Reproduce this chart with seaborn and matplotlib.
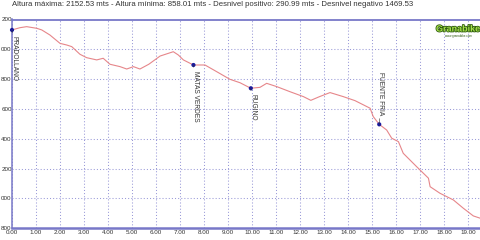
import matplotlib
matplotlib.use("Agg")
import matplotlib.pyplot as plt
import matplotlib.patheffects as pe
import seaborn as sns
import pandas as pd

# ---- data ----
dist_km = [0, 0.33, 0.61, 1.03, 1.24, 1.58, 2.0, 2.28, 2.49, 2.83, 3.11, 3.53, 3.8,
           4.08, 4.5, 4.78, 5.06, 5.33, 5.7, 6.17, 6.72, 6.93, 7.14, 7.56, 8.04, 8.53,
           9.08, 9.5, 9.95, 10.33, 10.61, 11.03, 11.58, 12.14, 12.45, 12.8, 13.25,
           13.8, 14.29, 14.92, 15.05, 15.3, 15.61, 15.82, 16.1, 16.3, 16.86, 17.35,
           17.42, 17.83, 18.39, 18.8, 19.22, 19.5, 19.6]
elev_m = [2130, 2145, 2152, 2141, 2130, 2096, 2040, 2029, 2018, 1967, 1944, 1929, 1940,
          1900, 1884, 1868, 1884, 1868, 1900, 1955, 1984, 1962, 1929, 1895, 1895, 1850,
          1799, 1776, 1739, 1745, 1772, 1750, 1716, 1683, 1658, 1682, 1710,
          1683, 1656, 1605, 1549, 1497, 1459, 1404, 1381, 1303, 1213, 1136,
          1079, 1035, 990, 935, 883, 868, 858]

wp_names = ["PRADOLLANO", "MATAS VERDES", "RUGINO", "FUENTE FRIA"]
wp_km = [0, 7.56, 9.95, 15.3]
wp_elev = [2130, 1895, 1739, 1497]

x_ticks = [0, 1, 2, 3, 4, 5, 6, 7, 8, 9, 10, 11, 12, 13, 14, 15, 16, 17, 18, 19]
x_tick_labels = ["0.00", "1.00", "2.00", "3.00", "4.00", "5.00", "6.00", "7.00", "8.00",
                 "9.00", "10.00", "11.00", "12.00", "13.00", "14.00", "15.00", "16.00",
                 "17.00", "18.00", "19.00"]
y_ticks = [800, 1000, 1200, 1400, 1600, 1800, 2000, 2200]
y_tick_labels = ["800", "000", "200", "400", "600", "800", "000", "200"]

title = ("Altura máxima: 2152.53 mts - Altura mínima: 858.01 mts - "
         "Desnivel positivo: 290.99 mts - Desnivel negativo 1469.53")

# ---- style ----
sns.set_style("white")
plt.rcParams['font.family'] = ['Liberation Sans', 'DejaVu Sans']

W, H = 481, 240
fig = plt.figure(figsize=(W / 100, H / 100), dpi=100)
ax = fig.add_axes([12 / W, 11.7 / H, 469 / W, 208.8 / H])

profile = pd.DataFrame({"km": dist_km, "elev": elev_m})
wps = pd.DataFrame({"name": wp_names, "km": wp_km, "elev": wp_elev})

sns.lineplot(data=profile, x="km", y="elev", ax=ax, color="#e6868a", lw=0.8, zorder=3)
sns.scatterplot(data=wps, x="km", y="elev", ax=ax, color="#1a1a9c", s=9,
                edgecolor="none", zorder=5, clip_on=False)

ax.set_xlim(0, 19.54)
ax.set_ylim(800, 2200)
ax.set_xticks(x_ticks)
ax.set_xticklabels(x_tick_labels)
ax.set_yticks(y_ticks)
ax.set_yticklabels(y_tick_labels)
ax.set_xlabel("")
ax.set_ylabel("")
ax.tick_params(axis="both", length=0, labelsize=4.5, colors="#333333")
ax.tick_params(axis="y", pad=0.2)
ax.tick_params(axis="x", pad=1.3)

ax.grid(True, color="#9a9ad8", linestyle=(0, (1, 2)), lw=0.75)
ax.set_axisbelow(True)
for side in ["left", "top", "bottom"]:
    ax.spines[side].set_color("#7878c8")
ax.spines["left"].set_linewidth(1.1)
ax.spines["top"].set_linewidth(1.3)
ax.spines["bottom"].set_linewidth(1.8)
ax.spines["right"].set_visible(False)

# waypoint labels
offsets = [(1.5, -4.5, "top"), (1.5, -4.0, "top"), (1.5, -4.0, "top"), (1.0, 6.5, "bottom")]
for (name, k, e), (dx, dy, va) in zip(zip(wp_names, wp_km, wp_elev), offsets):
    ax.annotate(name, xy=(k, e), xytext=(dx, dy), textcoords="offset points",
                rotation=270, ha="center", va=va, fontsize=4.8, color="#333333",
                arrowprops=dict(arrowstyle="-", lw=0.4, color="#333333",
                                shrinkA=0, shrinkB=0), zorder=6)

# title text
fig.text(12.5 / W, 1 - 4.5 / H, title, ha="left", va="center", fontsize=5.6,
         color="#333333")

# logo
fig.text(458 / W, 1 - 29 / H, "Granabike", ha="center", va="center",
         fontsize=6.5, fontweight="bold", color="#a6e24a",
         path_effects=[pe.withStroke(linewidth=1.2, foreground="#2f5a10")])
fig.text(458 / W, 1 - 36 / H, "www.granabike.com", ha="center", va="center",
         fontsize=2.2, color="#2f5a10")

fig.savefig("out.png", dpi=100)
